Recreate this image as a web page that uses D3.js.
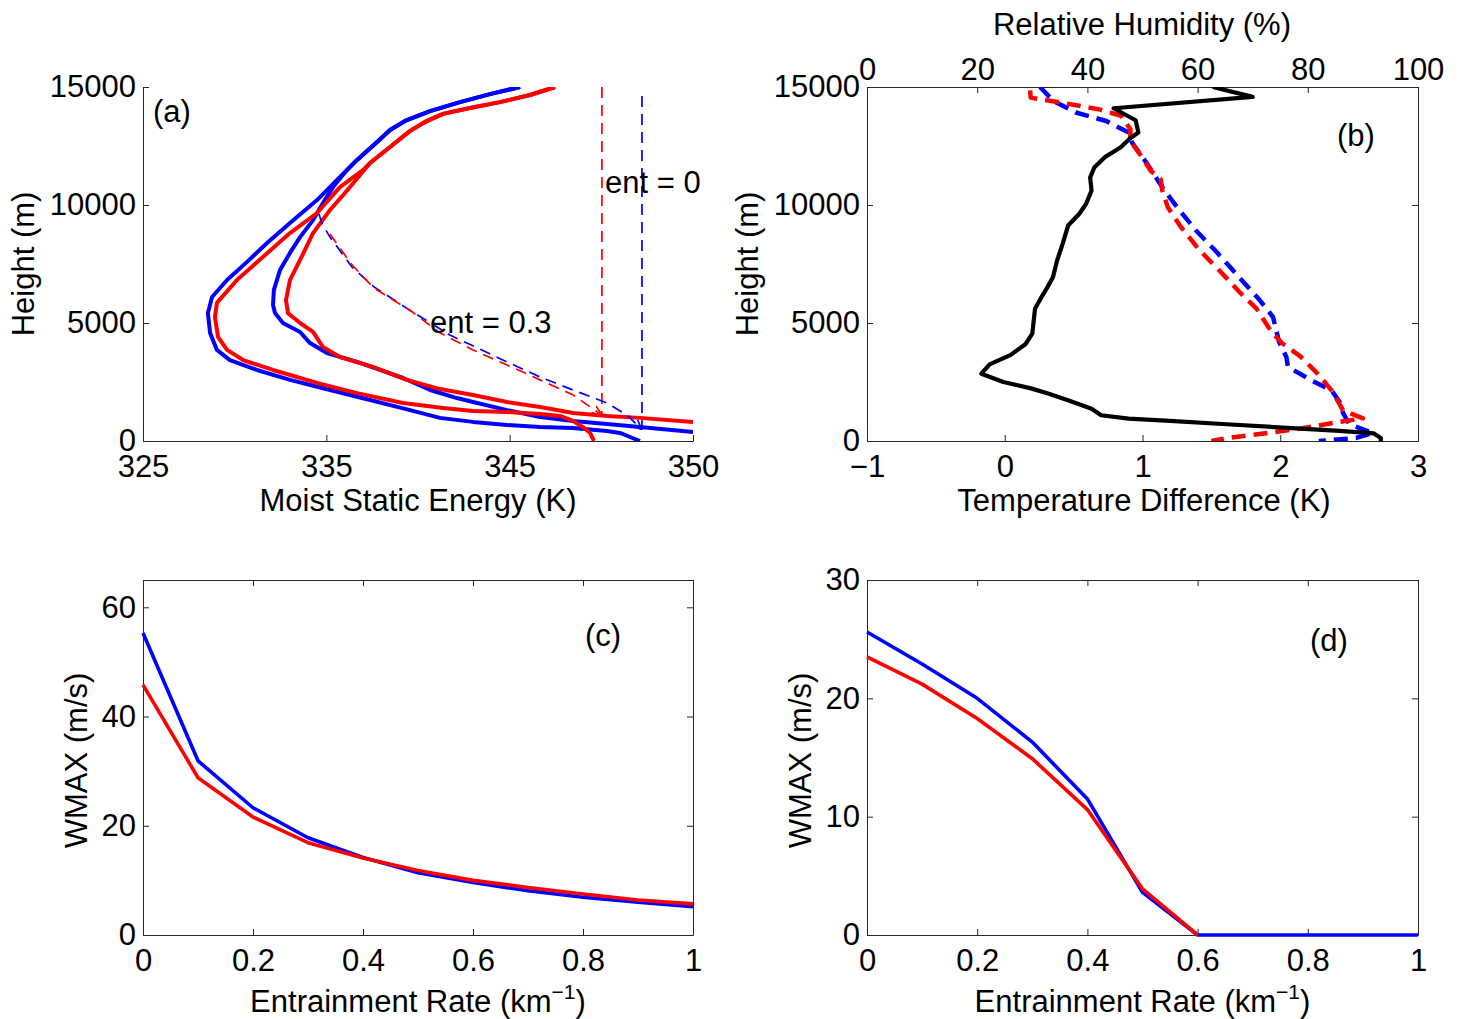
<!DOCTYPE html>
<html>
<head>
<meta charset="utf-8">
<script src="https://cdn.jsdelivr.net/npm/d3@7"></script>
<style>
  body { margin: 0; background: #fff; }
  svg { font-family: "Liberation Sans", Arial, Helvetica, sans-serif; }
</style>
</head>
<body>
<svg id="fig" width="1461" height="1019"></svg>
<script>
// ---------- data ----------
// panel (a): moist static energy profiles, [K, height m]
const mseTickLabels = ["325", "335", "345", "350"];
const heightTicks = [0, 5000, 10000, 15000];

const mseBlueEnv = [[342.14,15000],[340.77,14700],[339.41,14360],[338.05,13980],[336.91,13560],[336.23,13180],
  [335.64,12670],[334.73,11910],[333.82,11060],[332.91,10210],[331.68,9240],[330.64,8390],[329.73,7590],
  [328.82,6820],[328.14,6100],[327.95,5420],[328.05,4580],[328.36,3860],[328.95,3430],[330.18,3010],
  [331.68,2590],[333.5,2160],[335.32,1740],[337.14,1310],[338.5,980],[340.0,810],[341.55,680],[343.05,590],
  [344.55,550],[346.09,420],[346.68,340],[347.14,170],[347.59,0]];
const mseBlueSat = [[342.14,15000],[340.77,14700],[339.41,14360],[338.05,13980],[336.91,13560],[336.23,13180],
  [335.64,12670],[334.73,11910],[334.27,11480],[333.64,10760],[333.18,10080],[332.73,9360],[332.14,8640],
  [331.68,7970],[331.23,7250],[330.95,6400],[330.91,5760],[331.0,5420],[331.36,5000],[332.14,4620],
  [332.59,4150],[333.36,3730],[334.73,3350],[335.77,3010],[336.82,2670],[338.05,2160],[339.27,1820],
  [340.0,1650],[341.55,1310],[343.05,1020],[344.55,850],[346.09,720],[347.59,590],[350.0,380]];
const mseRedEnv = [[343.73,15000],[342.59,14660],[341.23,14360],[339.86,14110],[338.64,13860],[337.82,13520],
  [337.14,13140],[336.23,12460],[335.32,11780],[335.0,11480],[333.95,10760],[332.91,9660],[331.68,8810],
  [330.45,7800],[329.27,6820],[328.36,5850],[328.27,5250],[328.41,4410],[328.82,3860],[329.55,3430],
  [330.91,3010],[332.91,2460],[334.73,2030],[336.82,1610],[338.64,1400],[340.0,1270],[341.55,1230],
  [343.05,1140],[343.95,1060],[344.55,850],[345.0,590],[345.32,340],[345.5,0]];
const mseRedSat = [[343.73,15000],[342.59,14660],[341.23,14360],[339.86,14110],[338.64,13860],[337.82,13520],
  [337.14,13140],[336.23,12460],[335.32,11780],[334.41,10760],[333.5,9790],[332.73,8810],[332.14,7670],
  [331.68,6820],[331.5,5970],[331.59,5420],[332.14,5000],[332.73,4620],[333.18,3980],[333.95,3560],
  [335.45,3140],[337.0,2590],[338.5,2200],[340.0,1950],[341.55,1650],[343.05,1440],[344.55,1190],
  [346.09,1060],[347.59,980],[350.0,810]];
// parcel paths
const parcelRed03 = [[333.5,8770],[334.5,7460],[335.5,6480],[337.18,5510],[338.5,4580],[340.0,3860],
  [341.55,3220],[343.05,2590],[344.55,1950],[345.86,1100]];
const parcelBlue03 = [[333.0,9620],[333.14,9200],[333.5,8640],[334.5,7370],[335.5,6530],[337.18,5510],
  [338.95,4490],[341.55,3350],[343.05,2710],[344.55,2160],[346.09,1610],[347.0,1100],[347.68,480]];
const parcelRed0 = [[345.86,15000],[345.86,1100]];
const parcelBlue0 = [[347.68,14620],[347.68,480]];

// panel (b): temperature difference [K, m] and relative humidity [%, m]
const tempTicks = [-1, 0, 1, 2, 3];
const rhTicks = [0, 20, 40, 60, 80, 100];
const tempDiff = [[1.51,15000],[1.80,14580],[0.79,14100],[0.95,13590],[0.97,13070],[0.91,12830],[0.84,12440],
  [0.73,12040],[0.65,11590],[0.62,11170],[0.63,10610],[0.59,10040],[0.54,9620],[0.46,9130],[0.42,8350],
  [0.38,7650],[0.35,6940],[0.31,6520],[0.26,6030],[0.22,5610],[0.20,4550],[0.15,4100],[0.04,3640],
  [-0.11,3250],[-0.17,2850],[-0.01,2500],[0.19,2230],[0.32,2000],[0.49,1660],[0.63,1370],[0.70,1090],
  [0.90,950],[1.20,850],[1.61,710],[2.02,570],[2.43,430],[2.68,320],[2.73,130],[2.73,0]];
const rhRed = [[29.6,14860],[29.7,14550],[35.2,14340],[42.0,14060],[46.1,13780],[47.8,13210],[47.8,12720],
  [49.5,12160],[51.5,11450],[53.3,11100],[53.6,10610],[54.6,9900],[57.0,9060],[60.4,8070],[64.5,7090],
  [67.9,6240],[70.7,5610],[73.4,4620],[75.4,4130],[78.6,3600],[81.8,2850],[84.4,2120],[86.4,1300],
  [90.0,960],[85.5,800],[78.5,520],[72.0,320],[65.5,130],[62.5,0]];
const rhBlue = [[31.4,15000],[33.8,14410],[37.9,13920],[43.4,13560],[47.5,13070],[48.1,12650],[50.9,11730],
  [53.6,10750],[56.3,9900],[59.7,8920],[63.2,8070],[65.9,7370],[68.6,6660],[71.3,5960],[73.7,5250],
  [74.1,4830],[74.8,4200],[76.1,3560],[76.4,3140],[80.2,2630],[84.4,2120],[86.0,1570],[86.4,1190],
  [87.5,720],[91.8,340],[88.8,130],[82.0,0]];

// panels (c) and (d): WMAX vs entrainment rate
const entRate = [0, 0.1, 0.2, 0.3, 0.4, 0.5, 0.6, 0.7, 0.8, 0.9, 1.0];
const entTicks = [0, 0.2, 0.4, 0.6, 0.8, 1];
const wmaxBlueC = [55.3, 31.9, 23.3, 17.8, 14.2, 11.4, 9.6, 8.1, 6.9, 6.0, 5.2];
const wmaxRedC  = [45.8, 28.8, 21.6, 16.9, 14.1, 11.8, 10.0, 8.7, 7.5, 6.4, 5.7];
const wmaxBlueD = [25.6, 22.9, 20.0, 16.3, 11.5, 3.6, 0, 0, 0, 0, 0];
const wmaxRedD  = [23.5, 21.2, 18.3, 14.9, 10.6, 3.9, 0, null, null, null, null];
const wmaxTicksC = [0, 20, 40, 60];
const wmaxTicksD = [0, 10, 20, 30];

// ---------- drawing ----------
const svg = d3.select("#fig");
const FS = 31;
const AX = "#262626";
const TK = 6;

const defs = svg.append("defs");
function arrowMarker(id, color) {
  defs.append("marker").attr("id", id)
    .attr("viewBox", "0 0 10 10").attr("refX", 10).attr("refY", 5)
    .attr("markerWidth", 10).attr("markerHeight", 10)
    .attr("markerUnits", "userSpaceOnUse").attr("orient", "auto")
    .append("path").attr("d", "M0,1 L10,5 L0,9")
    .attr("fill", "none").attr("stroke", color).attr("stroke-width", 1.6);
}
arrowMarker("arrRed", "#ff0000");
arrowMarker("arrBlue", "#0000ff");

function makePanel(id, x, y, w, h) {
  defs.append("clipPath").attr("id", "clip-" + id)
    .append("rect").attr("x", 0).attr("y", 0).attr("width", w).attr("height", h);
  return svg.append("g").attr("transform", `translate(${x},${y})`);
}

function styleAxis(sel) {
  sel.attr("font-size", FS).attr("font-family", null);
  sel.select(".domain").attr("stroke", AX).attr("stroke-width", 1);
  sel.selectAll(".tick line").attr("stroke", AX);
  sel.selectAll(".tick text").attr("fill", "#000");
}

function addAxis(g, axis, tx, ty) {
  g.append("g").attr("transform", `translate(${tx},${ty})`).call(axis).call(styleAxis);
}

function path(g, id, data, x, y, color, width, dash) {
  const p = g.append("path")
    .datum(data)
    .attr("clip-path", `url(#clip-${id})`)
    .attr("fill", "none").attr("stroke", color).attr("stroke-width", width)
    .attr("stroke-linejoin", "round")
    .attr("d", d3.line().x(d => x(d[0])).y(d => y(d[1])));
  if (dash) p.attr("stroke-dasharray", dash);
  return p;
}

function label(g, x, y, text, rotate) {
  const t = g.append("text").attr("font-size", FS).attr("text-anchor", "middle").text(text);
  if (rotate) t.attr("transform", `translate(${x},${y}) rotate(-90)`);
  else t.attr("x", x).attr("y", y);
  return t;
}

const minus = d => (d < 0 ? "\u2212" + Math.abs(d) : String(d));

// ----- panel (a)
{
  const w = 550, h = 354;
  const g = makePanel("a", 143, 87, w, h);
  const x = d3.scaleLinear().domain([325, 350]).range([0, w]);
  const y = d3.scaleLinear().domain([0, 15000]).range([h, 0]);
  const xt = mseTickLabels.map((_, i) => 325 + i * 25 / (mseTickLabels.length - 1));
  addAxis(g, d3.axisBottom(x).tickValues(xt).tickFormat((d, i) => mseTickLabels[i])
    .tickSizeInner(-TK).tickSizeOuter(0).tickPadding(14), 0, h);
  addAxis(g, d3.axisLeft(y).tickValues(heightTicks).tickFormat(d3.format("d"))
    .tickSizeInner(-TK).tickSizeOuter(0).tickPadding(7), 0, 0);

  path(g, "a", mseBlueEnv, x, y, "#0000ff", 4);
  path(g, "a", mseBlueSat, x, y, "#0000ff", 4);
  path(g, "a", mseRedEnv, x, y, "#ff0000", 4);
  path(g, "a", mseRedSat, x, y, "#ff0000", 4);
  path(g, "a", parcelBlue0, x, y, "#0000ff", 1.7, "11,7");
  path(g, "a", parcelRed0, x, y, "#ff0000", 1.7, "11,7");
  path(g, "a", parcelBlue03, x, y, "#0000ff", 1.7, "11,7").attr("marker-end", "url(#arrBlue)");
  path(g, "a", parcelRed03, x, y, "#ff0000", 1.7, "11,7").attr("marker-end", "url(#arrRed)");

  g.append("text").attr("x", 10).attr("y", 35).attr("font-size", FS).text("(a)");
  g.append("text").attr("x", 462).attr("y", 106).attr("font-size", FS).text("ent = 0");
  g.append("text").attr("x", 287).attr("y", 246).attr("font-size", FS).text("ent = 0.3");

  label(svg, 418, 511, "Moist Static Energy (K)");
  label(svg, 34, 264, "Height (m)", true);
}

// ----- panel (b)
{
  const w = 551, h = 354;
  const g = makePanel("b", 867, 87, w, h);
  const x = d3.scaleLinear().domain([-1, 3]).range([0, w]);
  const xr = d3.scaleLinear().domain([0, 100]).range([0, w]);
  const y = d3.scaleLinear().domain([0, 15000]).range([h, 0]);
  addAxis(g, d3.axisBottom(x).tickValues(tempTicks).tickFormat(minus)
    .tickSizeInner(-TK).tickSizeOuter(0).tickPadding(14), 0, h);
  addAxis(g, d3.axisTop(xr).tickValues(rhTicks).tickFormat(d3.format("d"))
    .tickSizeInner(-TK).tickSizeOuter(0).tickPadding(7), 0, 0);
  addAxis(g, d3.axisLeft(y).tickValues(heightTicks).tickFormat(d3.format("d"))
    .tickSizeInner(-TK).tickSizeOuter(0).tickPadding(7), 0, 0);
  addAxis(g, d3.axisRight(y).tickValues(heightTicks).tickFormat("")
    .tickSizeInner(-TK).tickSizeOuter(0), w, 0);

  path(g, "b", rhBlue, xr, y, "#0000ff", 4.5, "14,8");
  path(g, "b", rhRed, xr, y, "#ff0000", 4.5, "14,8");
  path(g, "b", tempDiff, x, y, "#000000", 4.2);

  g.append("text").attr("x", 470).attr("y", 59).attr("font-size", FS).text("(b)");

  label(svg, 1144, 511, "Temperature Difference (K)");
  label(svg, 1142, 35, "Relative Humidity (%)");
  label(svg, 758, 264, "Height (m)", true);
}

// ----- panels (c), (d)
function wmaxPanel(id, px, py, w, h, ymax, yTicks, blue, red) {
  const g = makePanel(id, px, py, w, h);
  const x = d3.scaleLinear().domain([0, 1]).range([0, w]);
  const y = d3.scaleLinear().domain([0, ymax]).range([h, 0]);
  addAxis(g, d3.axisBottom(x).tickValues(entTicks).tickFormat(d3.format("~g"))
    .tickSizeInner(-TK).tickSizeOuter(0).tickPadding(14), 0, h);
  addAxis(g, d3.axisTop(x).tickValues(entTicks).tickFormat("")
    .tickSizeInner(-TK).tickSizeOuter(0), 0, 0);
  addAxis(g, d3.axisLeft(y).tickValues(yTicks).tickFormat(d3.format("d"))
    .tickSizeInner(-TK).tickSizeOuter(0).tickPadding(7), 0, 0);
  addAxis(g, d3.axisRight(y).tickValues(yTicks).tickFormat("")
    .tickSizeInner(-TK).tickSizeOuter(0), w, 0);

  const ln = d3.line().defined(d => d != null).x((d, i) => x(entRate[i])).y(d => y(d));
  g.append("path").datum(blue).attr("fill", "none").attr("stroke", "#0000ff")
    .attr("stroke-width", 3.6).attr("stroke-linejoin", "round").attr("d", ln);
  g.append("path").datum(red).attr("fill", "none").attr("stroke", "#ff0000")
    .attr("stroke-width", 3.6).attr("stroke-linejoin", "round").attr("d", ln);

  const cx = px + w / 2;
  const t = svg.append("text").attr("x", cx).attr("y", py + h + 77)
    .attr("font-size", FS).attr("text-anchor", "middle");
  t.append("tspan").text("Entrainment Rate (km");
  t.append("tspan").attr("font-size", 21).attr("dy", -13).text("\u22121");
  t.append("tspan").attr("dy", 13).text(")");
  label(svg, px - 56, py + h / 2 + 3, "WMAX (m/s)", true);
  return g;
}

const gc = wmaxPanel("c", 143, 580, 550, 355, 65, wmaxTicksC, wmaxBlueC, wmaxRedC);
gc.append("text").attr("x", 442).attr("y", 66).attr("font-size", FS).text("(c)");
const gd = wmaxPanel("d", 867, 580, 551, 355, 30, wmaxTicksD, wmaxBlueD, wmaxRedD);
gd.append("text").attr("x", 443).attr("y", 71).attr("font-size", FS).text("(d)");
</script>
</body>
</html>
